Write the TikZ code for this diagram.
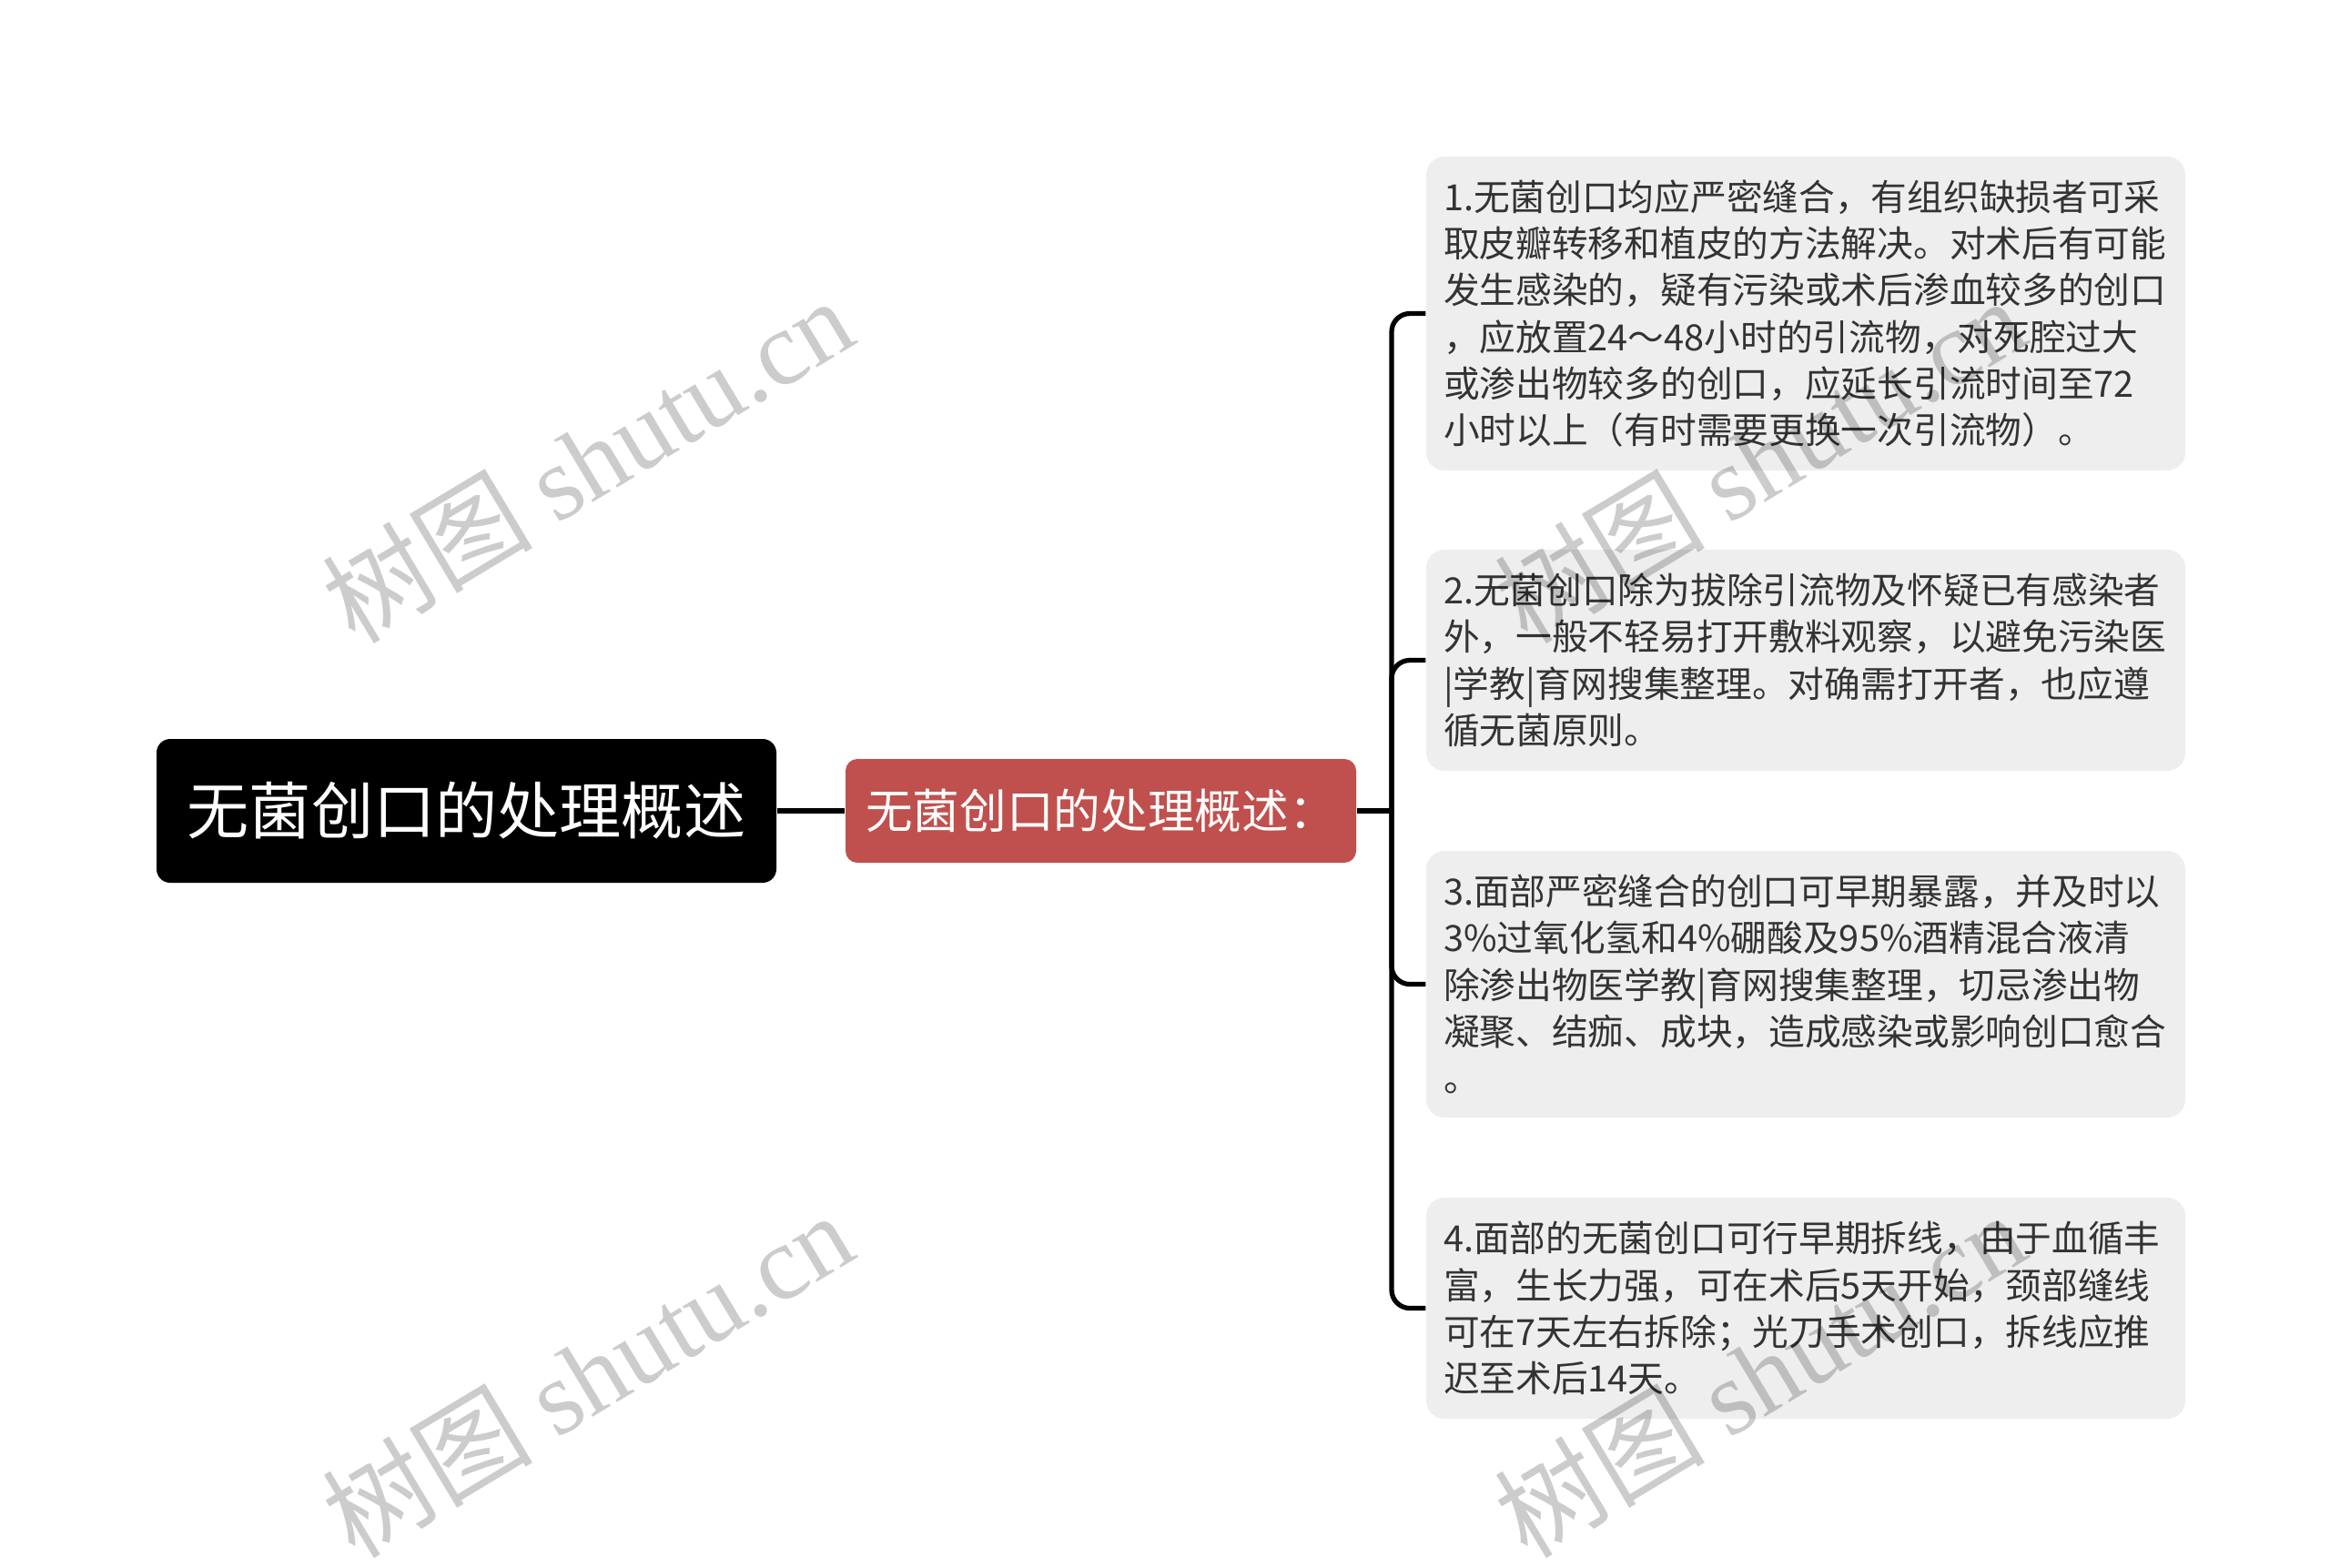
\documentclass[tikz,border=0pt]{standalone}
\usepackage{fontspec}
\setmainfont{Noto Sans CJK SC}
\newfontfamily\wmserif{Liberation Serif}
\definecolor{subred}{RGB}{192,80,77}
\definecolor{leafgray}{RGB}{238,238,238}
\definecolor{leaftext}{RGB}{51,51,51}
\begin{document}
\begin{tikzpicture}
		\tikzset{rootbox/.style = {shape=rectangle,fill=black,text=white,rounded corners=0.15cm,minimum width=6.81cm,minimum height=1.58cm,inner sep=0pt,font=\fontsize{19.4pt}{23pt}\selectfont}}
		\tikzset{subbox/.style = {shape=rectangle,fill=subred,text=white,rounded corners=0.13cm,minimum width=5.61cm,minimum height=1.14cm,inner sep=0pt,font=\fontsize{14.7pt}{18pt}\selectfont}}
		\tikzset{leafbox/.style = {shape=rectangle,fill=leafgray,text=leaftext,rounded corners=0.2cm,text width=7.96cm,inner xsep=0.19cm,inner ysep=0pt,align=left,font=\fontsize{11.3pt}{14.6pt}\selectfont}}
		\tikzset{link/.style = {draw,line width=1.5pt}}
		\tikzset{wmark/.style = {text=black,text opacity=0.2,rotate=31,font=\fontsize{33pt}{38pt}\selectfont}}
		\useasboundingbox (0,0) rectangle (25.6,-17.22);
		\node[rootbox] (root) at (5.125,-8.91) {无菌创口的处理概述};
		\node[subbox] (sub) at (12.095,-8.91) {无菌创口的处理概述：};
		\node[leafbox,minimum height=3.45cm] (leafa) at (19.84,-3.445) {1.无菌创口均应严密缝合，有组织缺损者可采\\取皮瓣转移和植皮的方法解决。对术后有可能\\发生感染的，疑有污染或术后渗血较多的创口\\，应放置24～48小时的引流物，对死腔过大\\或渗出物较多的创口，应延长引流时间至72\\小时以上（有时需要更换一次引流物）。};
		\node[leafbox,minimum height=2.43cm] (leafb) at (19.84,-7.255) {2.无菌创口除为拔除引流物及怀疑已有感染者\\外，一般不轻易打开敷料观察，以避免污染医\\|学教|育网搜集整理。对确需打开者，也应遵\\循无菌原则。};
		\node[leafbox,minimum height=2.93cm] (leafc) at (19.84,-10.815) {3.面部严密缝合的创口可早期暴露，并及时以\\3\%过氧化氢和4\%硼酸及95\%酒精混合液清\\除渗出物医学教|育网搜集整理，切忌渗出物\\凝聚、结痂、成块，造成感染或影响创口愈合\\。};
		\node[leafbox,minimum height=2.43cm] (leafd) at (19.84,-14.375) {4.面部的无菌创口可行早期拆线，由于血循丰\\富，生长力强，可在术后5天开始，颈部缝线\\可在7天左右拆除；光刀手术创口，拆线应推\\迟至术后14天。};
		\coordinate (fork) at (15.29,-8.91);
		\path[link] (root) edge (sub);
		\path[link] (sub) edge (fork);
		\draw[link,rounded corners=0.2cm] (fork) |- (leafa.west);
		\draw[link,rounded corners=0.2cm] (fork) |- (leafb.west);
		\draw[link,rounded corners=0.2cm] (fork) |- (leafc.west);
		\draw[link,rounded corners=0.2cm] (fork) |- (leafd.west);
		% watermarks
		\node[wmark] (wma) at (6.45,-5.05) {树图 {\wmserif shutu.cn}};
		\node[wmark] (wmb) at (6.45,-15.1) {树图 {\wmserif shutu.cn}};
		\node[wmark] (wmc) at (19.33,-5.05) {树图 {\wmserif shutu.cn}};
		\node[wmark] (wmd) at (19.33,-15.1) {树图 {\wmserif shutu.cn}};
	\end{tikzpicture}
\end{document}
